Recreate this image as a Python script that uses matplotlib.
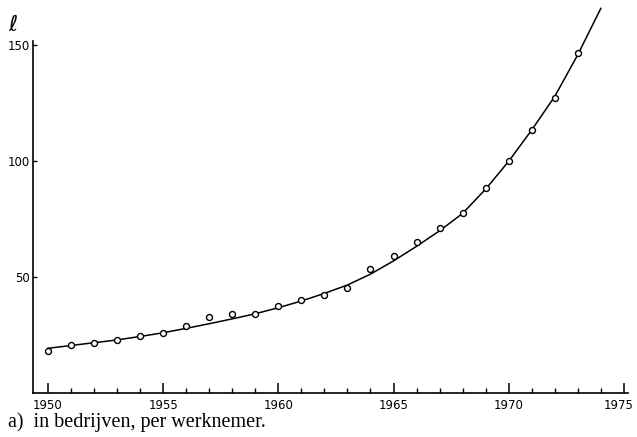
import matplotlib.pyplot as plt
import matplotlib.transforms as mtransforms
import numpy as np

# observed values (per employee)
years = np.arange(1950, 1974)
values = [18.3, 20.8, 21.7, 23.0, 24.5, 26.1, 28.8, 32.6, 34.2, 33.9,
          37.5, 40.2, 42.4, 45.4, 53.6, 59.3, 65.1, 71.1, 77.8, 88.5,
          100.2, 113.6, 127.5, 146.8]

curve_years = np.arange(1950, 1975)
curve_values = [19.3, 20.5, 21.7, 22.9, 24.4, 26.0, 27.9, 29.9, 32.0, 34.2,
                36.8, 39.7, 43.0, 46.6, 51.3, 57.0, 63.3, 70.0, 77.5, 88.0,
                100.0, 113.5, 128.0, 146.0, 166.0]

xticks = [1950, 1955, 1960, 1965, 1970, 1975]
yticks = [50, 100, 150]

fig = plt.figure(figsize=(6.37, 4.37), dpi=100)
ax = fig.add_axes([33 / 637, 1 - 393 / 437, 595 / 637, 393.9 / 437])

ax.plot(curve_years, curve_values, color="black", linewidth=1.1, zorder=2)
ax.plot(years, values, "o", markersize=4.3, markerfacecolor="white",
        markeredgecolor="black", markeredgewidth=1.0, zorder=3)

ax.set_xlim(1949.35, 1975.18)
ax.set_ylim(0, 170)

ax.spines["top"].set_visible(False)
ax.spines["right"].set_visible(False)
ax.spines["left"].set_linewidth(1.2)
ax.spines["bottom"].set_linewidth(1.2)
ax.spines["left"].set_bounds(0, 152)

ax.set_xticks(xticks)
ax.set_xticks(np.arange(1950, 1976), minor=True)
ax.set_yticks(yticks)
ax.tick_params(axis="x", which="major", direction="in", length=7, width=1.1,
               pad=4, labelsize=8.5)
ax.tick_params(axis="x", which="minor", direction="in", length=3.5, width=1.0)
ax.tick_params(axis="y", which="major", direction="in", length=3, width=1.0,
               pad=2, labelsize=8.5)

# last year label sits a little left of its tick, as in the original
last = ax.get_xticklabels()[-1]
last.set_transform(last.get_transform()
                   + mtransforms.ScaledTranslation(-5 / 100, 0, fig.dpi_scale_trans))

fig.text(13 / 637, 1 - 25 / 437, r"$\ell$", fontsize=16, ha="center",
         va="center")
fig.text(8 / 637, 1 - 422 / 437, "a)  in bedrijven, per werknemer.",
         family="Liberation Serif", fontsize=14.5, ha="left", va="center")

fig.savefig("out.png", dpi=100)
